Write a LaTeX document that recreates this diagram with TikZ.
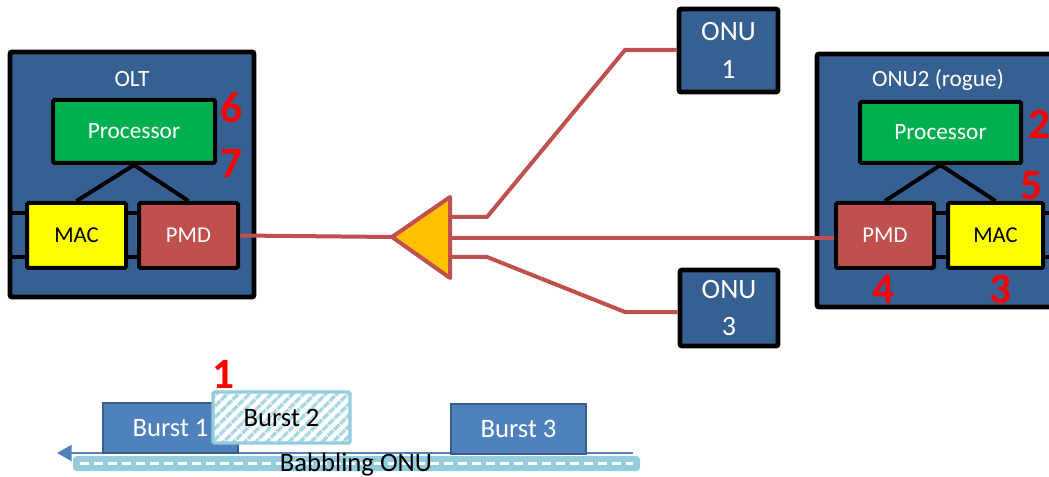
\documentclass[tikz,border=0pt]{standalone}
\usepackage{fontspec}
\setmainfont{Carlito}
\usetikzlibrary{arrows.meta,patterns.meta}
\definecolor{boxblue}{HTML}{376092}
\definecolor{procgreen}{HTML}{00B050}
\definecolor{macyellow}{HTML}{FFFF00}
\definecolor{pmdred}{HTML}{C0504D}
\definecolor{splitfill}{HTML}{FFC000}
\definecolor{numred}{HTML}{FF0000}
\definecolor{burstblue}{HTML}{4F81BD}
\definecolor{burstedge}{HTML}{385D8A}
\definecolor{lightcyan}{HTML}{93CDDD}
\definecolor{hatchcyan}{HTML}{A9D7E4}
\begin{document}
\begin{tikzpicture}[x=0.75pt,y=-0.75pt,
  sz/.style 2 args={minimum width=#1*0.75pt, minimum height=#2*0.75pt},
  outerbox/.style={draw=black, line width=3.6pt, fill=boxblue, rounded corners=1.5pt, inner sep=0pt},
  inbox/.style={draw=black, line width=3pt, rounded corners=1pt, inner sep=0pt},
  procbox/.style={inbox, fill=procgreen, text=white, font=\fontsize{17.5}{20}\selectfont},
  macbox/.style={inbox, fill=macyellow, text=black, font=\fontsize{17}{20}\selectfont},
  pmdbox/.style={inbox, fill=pmdred, text=white, font=\fontsize{17}{20}\selectfont},
  onubox/.style={outerbox, text=white, align=center, font=\fontsize{21}{28}\selectfont},
  boxlabel/.style={text=white, font=\fontsize{17.5}{20}\selectfont, inner sep=0pt},
  num/.style={text=numred, font=\fontsize{32.5}{36}\selectfont\bfseries, inner sep=0pt},
  bus/.style={draw=black, line width=3pt},
  link/.style={draw=black, line width=3pt},
  fiber/.style={draw=pmdred, line width=3pt},
  splitter/.style={draw=pmdred, line width=3pt, fill=splitfill, line join=round},
  burstbox/.style={draw=burstedge, line width=2.2pt, fill=burstblue, text=white, inner sep=0pt, font=\fontsize{20}{24}\selectfont},
  burstrogue/.style={draw=lightcyan, line width=2.4pt, rounded corners=1pt, inner sep=0pt, preaction={fill=white},
     pattern={Lines[angle=45,distance=6.5pt,line width=3pt]}, pattern color=hatchcyan, text=black, font=\fontsize{20}{24}\selectfont},
  babblebar/.style={draw=lightcyan, line width=1.5pt, fill=lightcyan, rounded corners=2pt, inner sep=0pt},
  timeline/.style={draw=burstblue, line width=1.6pt, -{Triangle[length=11pt,width=12pt]}}
]
\useasboundingbox (0,0) rectangle (1049,477);

% ONU 1 and 3
\node[onubox, sz={99}{83}] (onu1) at (728.5,50.5) {ONU\\1};
\node[onubox, sz={98}{76}] (onu3) at (729,308) {ONU\\3};

% OLT
\node[outerbox, sz={244}{245}] (olt) at (132,174.5) {};
\node[boxlabel] (oltlbl) at (132,79) {OLT};
\node[procbox, sz={162}{63}] (proc1) at (134,131.5) {Processor};
\node[macbox, sz={99}{65}] (mac1) at (76.5,235.5) {MAC};
\node[pmdbox, sz={99}{65}] (pmd1) at (188.5,235.5) {PMD};
\coordinate (m1a) at ([yshift=16.5pt]mac1.west);
\coordinate (m1b) at ([yshift=-16.5pt]mac1.west);
\coordinate (p1a) at ([yshift=16.5pt]pmd1.west);
\coordinate (p1b) at ([yshift=-16.5pt]pmd1.west);
\draw[bus] (olt.west |- m1a) -- (m1a);
\draw[bus] (olt.west |- m1b) -- (m1b);
\draw[bus] (mac1.east |- m1a) -- (p1a);
\draw[bus] (mac1.east |- m1b) -- (p1b);
\draw[link] (proc1.south) -- (mac1.north);
\draw[link] (proc1.south) -- (pmd1.north);
\node[num] (n6) at (231,108) {6};
\node[num] (n7) at (231,163) {7};

% ONU2
\node[outerbox, sz={236}{253}] (onu2) at (935,180.5) {};
\node[boxlabel] (onu2lbl) at (938,80) {ONU2 (rogue)};
\node[procbox, sz={161}{61}] (proc2) at (940.5,132.5) {Processor};
\node[pmdbox, sz={98}{65}] (pmd2) at (885,235.5) {PMD};
\node[macbox, sz={95}{65}] (mac2) at (995.5,235.5) {MAC};
\coordinate (m2a) at ([yshift=16.5pt]mac2.east);
\coordinate (m2b) at ([yshift=-16.5pt]mac2.east);
\coordinate (q2a) at ([yshift=16.5pt]pmd2.east);
\coordinate (q2b) at ([yshift=-16.5pt]pmd2.east);
\draw[bus] (q2a) -- (mac2.west |- q2a);
\draw[bus] (q2b) -- (mac2.west |- q2b);
\draw[bus] (m2a) -- (onu2.east |- m2a);
\draw[bus] (m2b) -- (onu2.east |- m2b);
\draw[link] (proc2.south) -- (pmd2.north);
\draw[link] (proc2.south) -- (mac2.north);
\node[num] (n2) at (1039,124) {2};
\node[num] (n5) at (1031,186) {5};
\node[num] (n4) at (883,289) {4};
\node[num] (n3) at (1000,289) {3};

% splitter and fibers
\coordinate (sptip) at (392,237);
\coordinate (sptop) at (450,197);
\coordinate (spbot) at (450,278);
\coordinate (s1) at (450,217);
\coordinate (s2) at (450,238);
\coordinate (s3) at (450,257);
\coordinate (k1) at (487,217);
\coordinate (k3) at (487,257);
\coordinate (j1) at (625,50);
\coordinate (j3) at (625,312);
\draw[fiber] (pmd1.east) -- (sptip);
\draw[fiber] (s1) -- (k1) -- (j1) -- (onu1.west |- j1);
\draw[fiber] (s2) -- (pmd2.west |- s2);
\draw[fiber] (s3) -- (k3) -- (j3) -- (onu3.west |- j3);
\draw[splitter] (sptip) -- (sptop) -- (spbot) -- cycle;

% timeline
\coordinate (tlstart) at (633,453);
\coordinate (tlend) at (57,453);
\draw[timeline] (tlstart) -- (tlend);
\node[burstbox, sz={135}{50}] (b1) at (170.5,428) {Burst 1};
\node[burstbox, sz={135}{50}] (b3) at (518.5,429) {Burst 3};
\node[burstrogue, sz={137}{51}] (b2) at (281.5,417.5) {Burst 2};
\node[num] (n1) at (223,374) {1};
\node[babblebar, sz={565}{13}] (bar) at (356.5,463.5) {};
\draw[white, line width=2pt, dash pattern=on 7pt off 3.5pt] ([xshift=5pt]bar.west) -- ([xshift=-5pt]bar.east);
\node[anchor=base, inner sep=0pt, font=\fontsize{20}{24}\selectfont] (babtxt) at (356,471) {Babbling ONU};
\end{tikzpicture}
\end{document}
